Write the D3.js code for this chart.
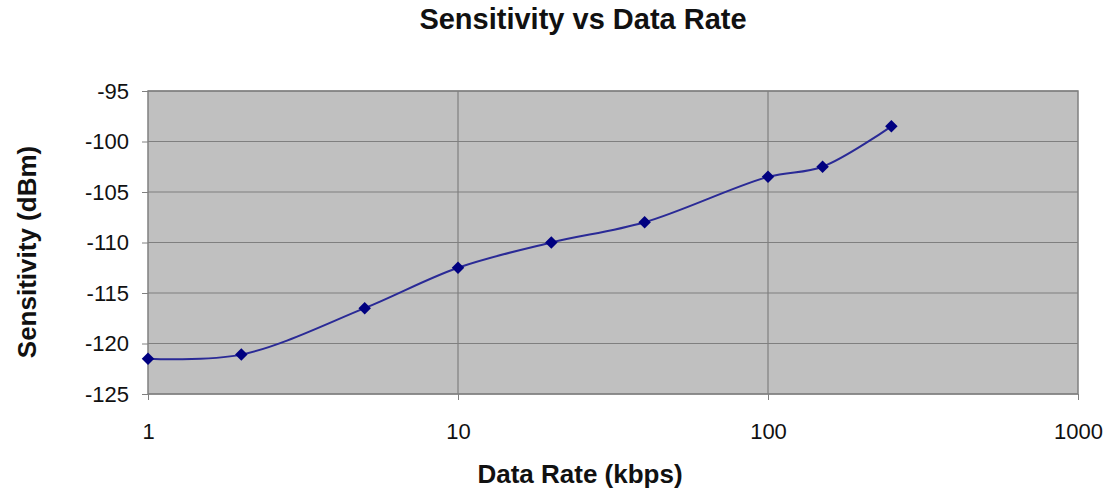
<!DOCTYPE html>
<html>
<head>
<meta charset="utf-8">
<script src="https://cdn.jsdelivr.net/npm/d3@7"></script>
<style>
  body { margin: 0; background: #fff; }
  text { font-family: "Liberation Sans", Arial, sans-serif; }
</style>
</head>
<body>
<div id="container"></div>
<script>
// data
const rates = [1, 2, 5, 10, 20, 40, 100, 150, 250];
const sensitivity = [-121.5, -121.1, -116.5, -112.5, -110, -108, -103.5, -102.5, -98.5];
const xTicks = [1, 10, 100, 1000];
const yTicks = [-95, -100, -105, -110, -115, -120, -125];

const width = 1111;
const height = 492;
const margin = ({top: 91, right: 33, bottom: 98, left: 148});

const x = d3.scaleLog([1, 1000], [margin.left, width - margin.right]);
const y = d3.scaleLinear([-125, -95], [height - margin.bottom, margin.top]);

const svg = d3.select('#container')
  .append('svg')
  .attr('width', width)
  .attr('height', height)
  .attr('viewBox', [0, 0, width, height]);

// plot background
svg.append('rect')
  .attr('x', x(1))
  .attr('y', y(-95))
  .attr('width', x(1000) - x(1))
  .attr('height', y(-125) - y(-95))
  .attr('fill', '#c0c0c0');

// gridlines
svg.append('g')
  .attr('stroke', '#7f7f7f')
  .attr('stroke-width', 1.2)
  .selectAll('line')
  .data(yTicks)
  .join('line')
    .attr('x1', x(1))
    .attr('x2', x(1000))
    .attr('y1', d => y(d))
    .attr('y2', d => y(d));

svg.append('g')
  .attr('stroke', '#7f7f7f')
  .attr('stroke-width', 1.2)
  .selectAll('line')
  .data(xTicks.slice(1, -1))
  .join('line')
    .attr('x1', d => x(d))
    .attr('x2', d => x(d))
    .attr('y1', y(-95))
    .attr('y2', y(-125));

// border
svg.append('rect')
  .attr('x', x(1))
  .attr('y', y(-95))
  .attr('width', x(1000) - x(1))
  .attr('height', y(-125) - y(-95))
  .attr('fill', 'none')
  .attr('stroke', '#808080')
  .attr('stroke-width', 1.5);

// axes
const xAxis = d3.axisBottom(x)
  .tickValues(xTicks)
  .tickFormat(d => String(d))
  .tickSize(6)
  .tickPadding(23);

svg.append('g')
  .attr('transform', `translate(0,${y(-125)})`)
  .call(xAxis)
  .call(g => g.select('.domain').remove())
  .call(g => g.selectAll('.tick line').attr('stroke', '#808080'))
  .call(g => g.selectAll('.tick text')
    .attr('font-size', 22)
    .attr('fill', '#111'));

const yAxis = d3.axisLeft(y)
  .tickValues(yTicks)
  .tickFormat(d => String(d))
  .tickSize(6)
  .tickPadding(13);

svg.append('g')
  .attr('transform', `translate(${x(1)},0)`)
  .call(yAxis)
  .call(g => g.select('.domain').remove())
  .call(g => g.selectAll('.tick line').attr('stroke', '#808080'))
  .call(g => g.selectAll('.tick text')
    .attr('font-size', 22)
    .attr('fill', '#111'));

// series
const points = rates.map((r, i) => [r, sensitivity[i]]);

const line = d3.line()
  .x(d => x(d[0]))
  .y(d => y(d[1]))
  .curve(d3.curveCatmullRom.alpha(0.5));

svg.append('path')
  .datum(points)
  .attr('fill', 'none')
  .attr('stroke', '#2a2a96')
  .attr('stroke-width', 2)
  .attr('d', line);

svg.append('g')
  .attr('fill', '#000080')
  .selectAll('path')
  .data(points)
  .join('path')
    .attr('transform', d => `translate(${x(d[0])},${y(d[1])})`)
    .attr('d', d3.symbol(d3.symbolDiamond2, 100));

// titles
svg.append('text')
  .attr('x', 583)
  .attr('y', 29)
  .attr('text-anchor', 'middle')
  .attr('font-size', 29)
  .attr('font-weight', 'bold')
  .attr('fill', '#111')
  .text('Sensitivity vs Data Rate');

svg.append('text')
  .attr('x', 580)
  .attr('y', 483)
  .attr('text-anchor', 'middle')
  .attr('font-size', 26)
  .attr('font-weight', 'bold')
  .attr('fill', '#111')
  .text('Data Rate (kbps)');

svg.append('text')
  .attr('transform', 'translate(36,252) rotate(-90)')
  .attr('text-anchor', 'middle')
  .attr('font-size', 26)
  .attr('font-weight', 'bold')
  .attr('fill', '#111')
  .text('Sensitivity (dBm)');
</script>
</body>
</html>
